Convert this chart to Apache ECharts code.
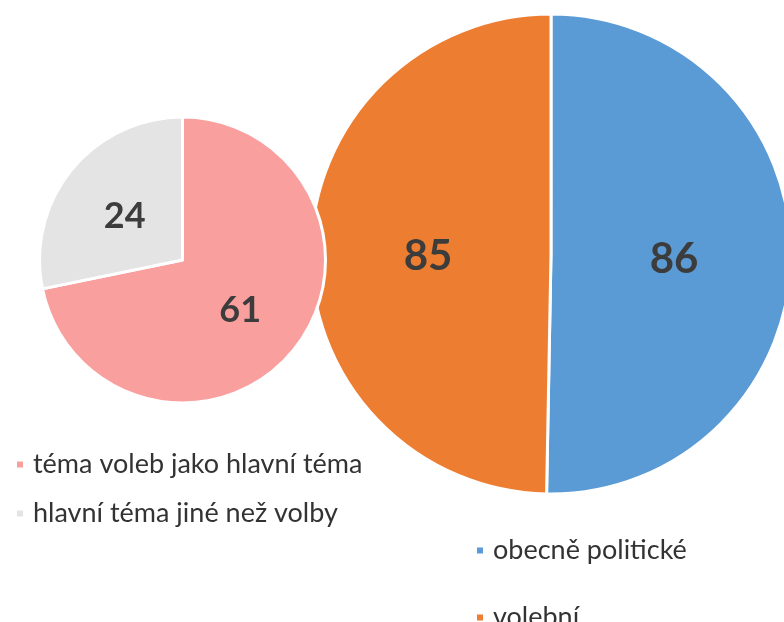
<!DOCTYPE html>
<html><head><meta charset="utf-8">
<script src="https://cdn.jsdelivr.net/npm/echarts@6/dist/echarts.min.js"></script>
<style>html,body{margin:0;padding:0;background:#fff;overflow:hidden}#c{width:784px;height:660px}</style>
</head><body><div id="c"></div>
<script>
const bigCategories = ['obecně politické', 'volební'];
const bigValues = [86, 85];
const bigColors = ['#5B9BD5', '#ED7D31'];
const smallCategories = ['téma voleb jako hlavní téma', 'hlavní téma jiné než volby'];
const smallValues = [61, 24];
const smallColors = ['#F9A09F', '#E4E4E4'];

const chart = echarts.init(document.getElementById('c'), null, {renderer: 'canvas'});
const font = 'Lato, "Open Sans", sans-serif';
const legendText = {fontFamily: font, fontSize: 27, color: '#333333', lineHeight: 27, padding: [0, 0, 0, 4]};

chart.setOption({
  backgroundColor: '#ffffff',
  animation: false,
  color: bigColors.concat(smallColors),
  legend: [
    {
      orient: 'vertical', left: 10, top: 446, itemWidth: 8, itemHeight: 8, itemGap: 22,
      icon: 'rect', selectedMode: false, data: smallCategories, textStyle: legendText
    },
    {
      orient: 'vertical', left: 470, top: 532, itemWidth: 8, itemHeight: 8, itemGap: 40,
      icon: 'rect', selectedMode: false, data: bigCategories, textStyle: legendText
    }
  ],
  series: [
    {
      type: 'pie', center: [551, 254], radius: [0, 240], startAngle: 90, clockwise: true,
      z: 1,
      itemStyle: {borderColor: '#ffffff', borderWidth: 3},
      label: {position: 'inside', formatter: '{c}', fontFamily: font, fontWeight: 'bold', fontSize: 42, color: '#3c3c3c', offset: [0, 4]},
      labelLine: {show: false},
      emphasis: {disabled: true},
      data: bigCategories.map((n, i) => ({name: n, value: bigValues[i], itemStyle: {color: bigColors[i]}}))
    },
    {
      type: 'pie', center: [182.5, 260], radius: [0, 143], startAngle: 90, clockwise: true,
      z: 3,
      itemStyle: {borderColor: '#ffffff', borderWidth: 3},
      label: {position: 'inside', formatter: '{c}', fontFamily: font, fontWeight: 'bold', fontSize: 36, color: '#3c3c3c', offset: [0, 3]},
      labelLine: {show: false},
      emphasis: {disabled: true},
      data: smallCategories.map((n, i) => ({name: n, value: smallValues[i], itemStyle: {color: smallColors[i]}}))
    }
  ]
});
</script>
</body></html>
